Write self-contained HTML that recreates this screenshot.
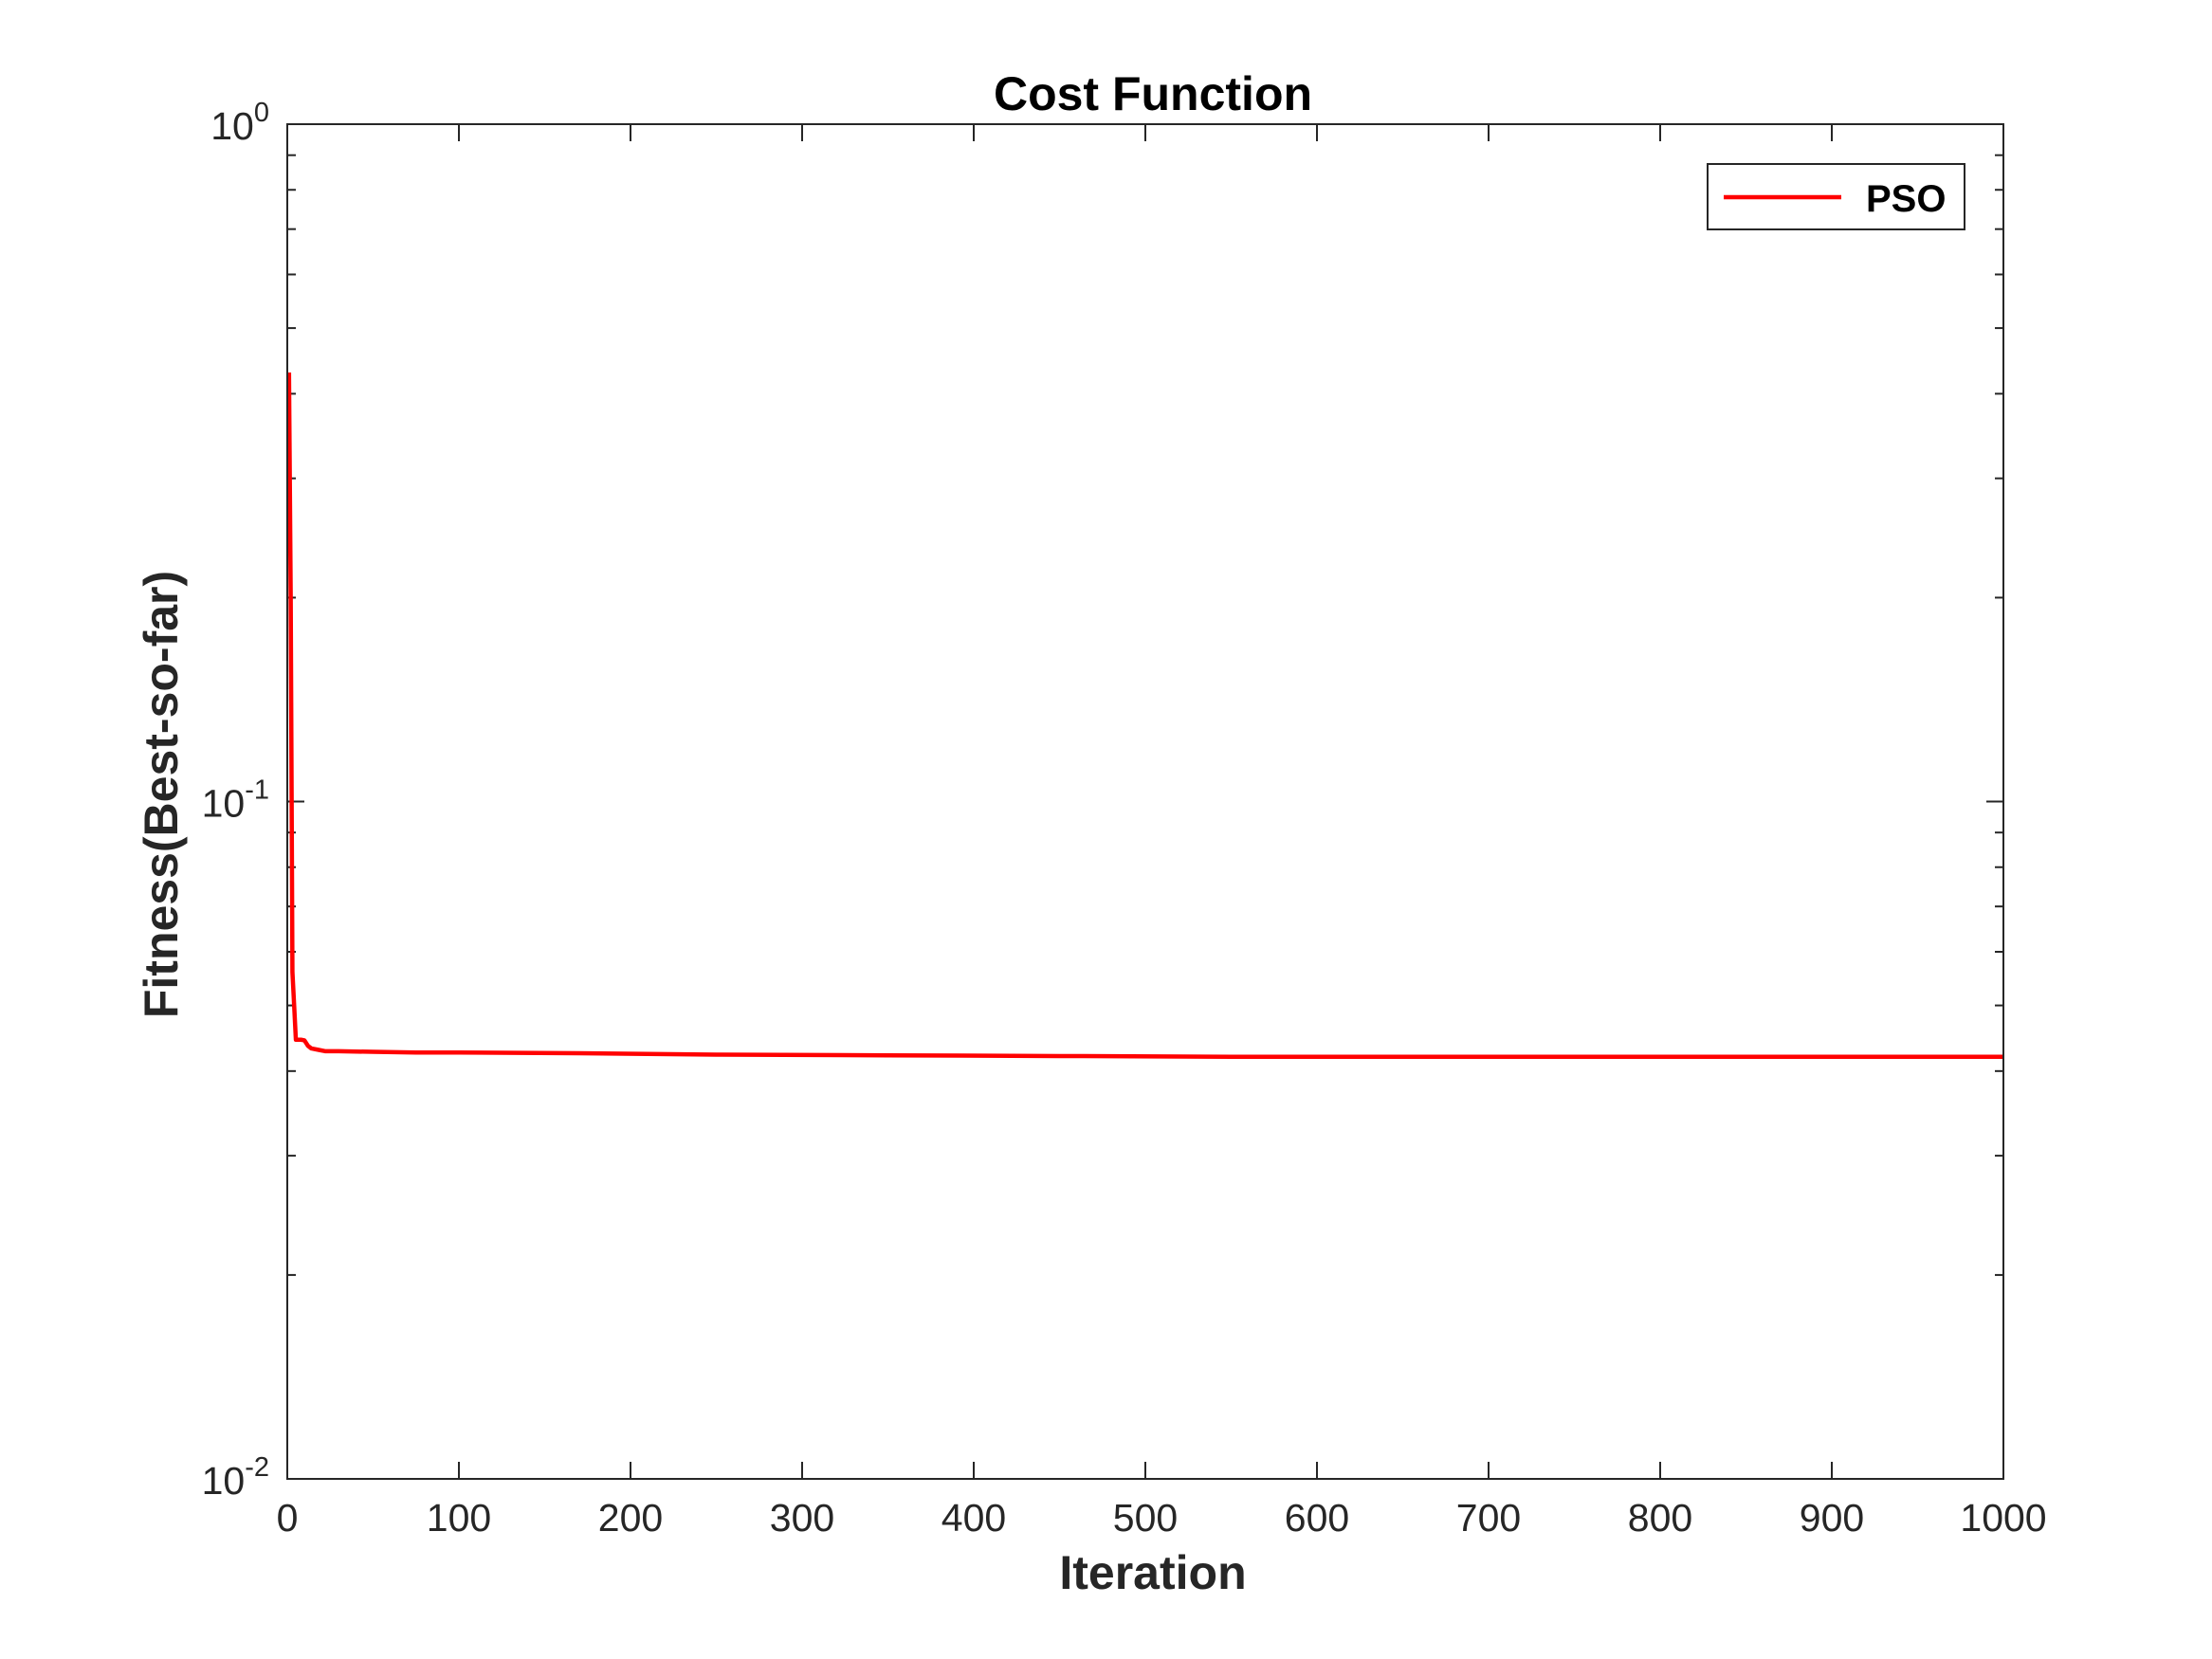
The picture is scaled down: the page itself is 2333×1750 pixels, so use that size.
<!DOCTYPE html>
<html><head><meta charset="utf-8"><style>body{margin:0;background:#fff}svg{display:block}text{font-family:"Liberation Sans",Arial,sans-serif}</style></head>
<body>
<svg id="chart" width="2333" height="1750" viewBox="0 0 2333 1750" xmlns="http://www.w3.org/2000/svg">
<rect width="2333" height="1750" fill="#fff"/>
<text x="1216" y="116" font-size="50" font-weight="bold" text-anchor="middle" fill="#000">Cost Function</text>
<text x="1216" y="1676" font-size="50" font-weight="bold" text-anchor="middle" fill="#262626">Iteration</text>
<text transform="translate(187,838) rotate(-90)" font-size="50" font-weight="bold" text-anchor="middle" fill="#262626">Fitness(Best-so-far)</text>
<g id="ticks"></g>
<polyline id="series" fill="none" stroke="#ff0000" stroke-width="4.5" stroke-linejoin="round"/>
<rect x="303" y="131" width="1810" height="1429" fill="none" stroke="#262626" stroke-width="2"/>
<g>
<rect x="1801" y="173" width="271" height="69" fill="#fff" stroke="#262626" stroke-width="2"/>
<line x1="1818" y1="208" x2="1942" y2="208" stroke="#ff0000" stroke-width="4.5"/>
<text x="1968" y="223" font-size="40" font-weight="bold" fill="#000">PSO</text>
</g>
</svg>
<script>
const xTicks = [0,100,200,300,400,500,600,700,800,900,1000];
const yDecades = [-2,-1,0];
const iterations = [1,2,3,4,5,8,10,12,14,18,22,30,50,75,100,170,250,350,450,550,700,850,1000];
const fitness = [0.43,0.2,0.056,0.05,0.0445,0.0445,0.0444,0.0436,0.0432,0.043,0.0428,0.0428,0.0427,0.0426,0.0426,0.0425,0.0423,0.0422,0.0421,0.042,0.042,0.042,0.042];
const L=303,R=2113,T=131,B=1560;
const xs=v=>L+(v-0)/(1000-0)*(R-L);
const ys=v=>T+(0-Math.log10(v))/2*(B-T);
const NS="http://www.w3.org/2000/svg";
const g=document.getElementById('ticks');
function ln(x1,y1,x2,y2,name){const e=document.createElementNS(NS,'line');e.setAttribute('x1',x1);e.setAttribute('y1',y1);e.setAttribute('x2',x2);e.setAttribute('y2',y2);e.setAttribute('stroke','#262626');e.setAttribute('stroke-width','2');


g.appendChild(e);}
xTicks.forEach(v=>{const x=xs(v);ln(x,B,x,B-18,'x-tick');ln(x,T,x,T+18,'x-tick-top');
const t=document.createElementNS(NS,'text');t.setAttribute('x',x);t.setAttribute('y',1615);t.setAttribute('font-size','41');t.setAttribute('text-anchor','middle');t.setAttribute('fill','#262626');t.textContent=v;


g.appendChild(t);});
yDecades.forEach(d=>{const y=ys(Math.pow(10,d));ln(L,y,L+18,y,'y-tick');ln(R,y,R-18,y,'y-tick-right');
const t=document.createElementNS(NS,'text');t.setAttribute('x',284);t.setAttribute('y',y+16);t.setAttribute('font-size','41');t.setAttribute('text-anchor','end');t.setAttribute('fill','#262626');
t.innerHTML='10<tspan dy="-19" font-size="29">'+d+'</tspan>';


g.appendChild(t);
if(d<0){for(let k=2;k<=9;k++){const yy=ys(k*Math.pow(10,d));ln(L,yy,L+9,yy,'y-minor-tick');ln(R,yy,R-9,yy,'y-minor-tick-right');}}});
document.getElementById('series').setAttribute('points',iterations.map((v,i)=>xs(v)+','+ys(fitness[i])).join(' '));
</script>
</body></html>
